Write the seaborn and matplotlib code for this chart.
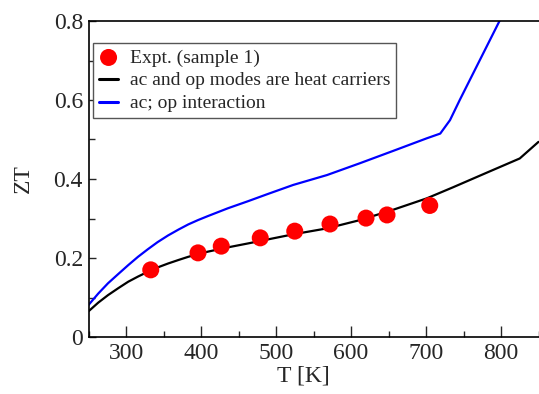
import numpy as np
import pandas as pd
import matplotlib
matplotlib.use("Agg")
import matplotlib.pyplot as plt
from matplotlib.ticker import MultipleLocator
import seaborn as sns

# Experimental data (sample 1)
expt_T = [333, 396, 427, 479, 525, 572, 620, 648, 705]
expt_ZT = [0.170, 0.213, 0.230, 0.251, 0.268, 0.286, 0.301, 0.309, 0.333]

# ac and op modes are heat carriers (black)
black_T = [250, 263, 276, 290, 303, 316, 329, 342, 356, 370, 383, 396, 409,
           436, 463, 489, 523, 568, 612, 656, 701, 736, 781, 825, 850]
black_ZT = [0.065, 0.087, 0.106, 0.124, 0.140, 0.153, 0.165, 0.176, 0.186,
            0.195, 0.203, 0.210, 0.216, 0.227, 0.237, 0.247, 0.260, 0.275,
            0.296, 0.322, 0.351, 0.379, 0.416, 0.452, 0.494]

# ac; op interaction (blue)
blue_T = [250, 263, 276, 290, 303, 316, 329, 342, 356, 370, 383, 396, 409,
          436, 463, 489, 523, 568, 612, 656, 701, 719, 732, 745, 798, 820]
blue_ZT = [0.081, 0.110, 0.136, 0.160, 0.182, 0.203, 0.222, 0.240, 0.257,
           0.272, 0.285, 0.296, 0.306, 0.326, 0.344, 0.362, 0.385, 0.410,
           0.440, 0.471, 0.503, 0.515, 0.549, 0.600, 0.800, 0.883]

sns.set_style("ticks")
plt.rcParams["font.family"] = ["Liberation Serif", "DejaVu Serif"]

fig = plt.figure(figsize=(5.39, 3.94), dpi=100)
ax = fig.add_axes([88.5 / 539, 57 / 394, 450 / 539, 316 / 394])

df_black = pd.DataFrame({"T": black_T, "ZT": black_ZT})
df_blue = pd.DataFrame({"T": blue_T, "ZT": blue_ZT})
df_expt = pd.DataFrame({"T": expt_T, "ZT": expt_ZT})

sns.lineplot(data=df_black, x="T", y="ZT", ax=ax, color="black", lw=1.6,
             label="ac and op modes are heat carriers", sort=False, estimator=None)
sns.lineplot(data=df_blue, x="T", y="ZT", ax=ax, color="#0000ff", lw=1.6,
             label="ac; op interaction", sort=False, estimator=None)
sns.scatterplot(data=df_expt, x="T", y="ZT", ax=ax, color="#ff0000", s=150,
                edgecolor="none", label="Expt. (sample 1)", zorder=5)

ax.set_xlim(250, 850)
ax.set_ylim(0, 0.8)
ax.xaxis.set_minor_locator(MultipleLocator(50))
ax.yaxis.set_minor_locator(MultipleLocator(0.1))
ax.set_xticks([300, 400, 500, 600, 700, 800])
ax.set_yticks([0, 0.2, 0.4, 0.6, 0.8])
ax.set_yticklabels(["0", "0.2", "0.4", "0.6", "0.8"])

ax.tick_params(axis="both", which="major", direction="in", length=8, width=1,
               labelsize=17, pad=4, top=False, right=False)
ax.tick_params(axis="both", which="minor", direction="in", length=4, width=1,
               top=False, right=False)
ax.tick_params(axis="y", which="major", length=5)
ax.tick_params(axis="y", which="minor", length=4)

for s in ["left", "bottom", "top"]:
    ax.spines[s].set_linewidth(1.2)
    ax.spines[s].set_color("black")
ax.spines["right"].set_visible(False)

ax.set_xlabel("T [K]", fontsize=17)
ax.set_ylabel("ZT", fontsize=17)
ax.xaxis.set_label_coords(0.477, -0.09)
ax.yaxis.set_label_coords(-0.122, 0.5)

handles, labels = ax.get_legend_handles_labels()
order = [labels.index("Expt. (sample 1)"),
         labels.index("ac and op modes are heat carriers"),
         labels.index("ac; op interaction")]
leg = ax.legend([handles[i] for i in order], [labels[i] for i in order],
                loc="upper left", bbox_to_anchor=(0.01, 0.93), borderaxespad=0,
                fontsize=14, frameon=True, fancybox=False, shadow=False,
                handlelength=1.0, handletextpad=0.6, labelspacing=0.27,
                borderpad=0.3, markerscale=1.0)
leg.get_frame().set_edgecolor("#555555")
leg.get_frame().set_linewidth(1.0)
leg.get_frame().set_alpha(1)
for line in leg.get_lines():
    line.set_linewidth(2.2)

fig.savefig("out.png", dpi=100)
